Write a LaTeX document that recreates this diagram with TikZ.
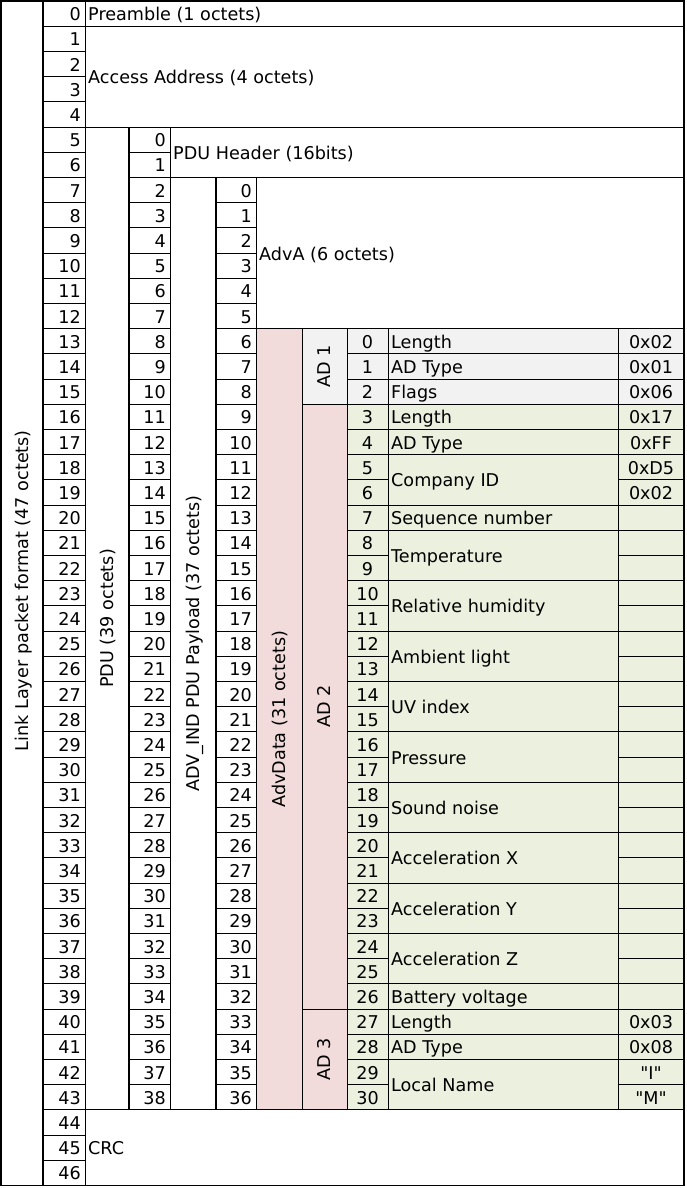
\documentclass[tikz,border=0pt]{standalone}
\usepackage{fontspec}
\setmainfont{DejaVu Sans}[Ligatures=TeXOff]
\definecolor{pinkc}{HTML}{F2DCDB}
\definecolor{greenc}{HTML}{EBF1DE}
\definecolor{grayc}{HTML}{F2F2F2}
\newcommand{\tabfont}{\fontsize{17.6}{20}\selectfont}
\tikzset{
  thinln/.style={line width=0.9pt, draw=black},
  thickln/.style={line width=2.6pt, draw=black},
  border/.style={line width=1.3pt, draw=black},
  txt/.style={inner sep=0pt, text height=12.6pt, text depth=0pt, font=\tabfont},
  num/.style={txt, anchor=east, yshift=-0.8pt},
  cnum/.style={txt, anchor=center, yshift=-0.8pt},
  lbl/.style={txt, anchor=west, yshift=-0.8pt},
  rot/.style={txt, anchor=center, rotate=90},
}
\begin{document}
\begin{tikzpicture}[x=1pt,y=-1pt]
\def\rh{25.2}
\useasboundingbox (0,0) rectangle (686,1188);
% ---- fills
\fill[pinkc] (256,{1+13*\rh}) rectangle (302,{1+44*\rh});
\fill[grayc] (302,{1+13*\rh}) rectangle (684,{1+16*\rh});
\fill[pinkc] (302,{1+16*\rh}) rectangle (347,{1+44*\rh});
\fill[greenc] (347,{1+16*\rh}) rectangle (684,{1+44*\rh});
% ---- horizontal lines in the number columns
\foreach \r in {1,...,46} \draw[thinln] (43,{1+\r*\rh}) -- (85,{1+\r*\rh});
\foreach \r in {6,...,43} \draw[thinln] (129,{1+\r*\rh}) -- (170,{1+\r*\rh});
\foreach \r in {8,...,43} \draw[thinln] (216,{1+\r*\rh}) -- (256,{1+\r*\rh});
\foreach \r in {14,...,43} {
  \draw[thinln] (347,{1+\r*\rh}) -- (388,{1+\r*\rh});
  \draw[thinln] (618,{1+\r*\rh}) -- (684,{1+\r*\rh});
}
\foreach \r in {14,15,16,17,18,20,21,23,25,27,29,31,33,35,37,39,40,41,42}
  \draw[thinln] (388,{1+\r*\rh}) -- (618,{1+\r*\rh});
% ---- separators of the merged cells
\draw[thinln] (85,{1+1*\rh}) -- (684,{1+1*\rh});
\draw[thinln] (85,{1+5*\rh}) -- (684,{1+5*\rh});
\draw[thinln] (170,{1+7*\rh}) -- (684,{1+7*\rh});
\draw[thinln] (256,{1+13*\rh}) -- (684,{1+13*\rh});
\draw[thinln] (302,{1+16*\rh}) -- (684,{1+16*\rh});
\draw[thinln] (302,{1+40*\rh}) -- (684,{1+40*\rh});
\draw[thinln] (85,{1+44*\rh}) -- (684,{1+44*\rh});
% ---- vertical lines
\draw[thinln] (85,{1}) -- (85,{1+47*\rh});
\draw[thinln] (170,{1+5*\rh}) -- (170,{1+44*\rh});
\draw[thinln] (256,{1+7*\rh}) -- (256,{1+44*\rh});
\foreach \x in {302,347,388,618}
  \draw[thinln] (\x,{1+13*\rh}) -- (\x,{1+44*\rh});
\draw[thickln] (43,{1}) -- (43,{1+47*\rh});
\draw[thickln] (129,{1+5*\rh}) -- (129,{1+44*\rh});
\draw[thickln] (216,{1+7*\rh}) -- (216,{1+44*\rh});
\draw[border] (1,1) rectangle (684,{1+47*\rh});
% ---- numbers
\foreach \r in {0,...,46} \node[num] (a\r) at (81,{1+(\r+0.5)*\rh}) {\r};
\foreach \r in {0,...,38} \node[num] (b\r) at (166,{1+(\r+5.5)*\rh}) {\r};
\foreach \r in {0,...,36} \node[num] (c\r) at (252,{1+(\r+7.5)*\rh}) {\r};
\foreach \r in {0,...,30} \node[cnum] (d\r) at (367.5,{1+(\r+13.5)*\rh}) {\r};
% ---- labels of the outer fields
\node[lbl] (preamble) at (88,{1+0.5*\rh}) {Preamble (1 octets)};
\node[lbl] (access) at (88,{1+3*\rh}) {Access Address (4 octets)};
\node[lbl] (pduhdr) at (173,{1+6*\rh}) {PDU Header (16bits)};
\node[lbl] (adva) at (259,{1+10*\rh}) {AdvA (6 octets)};
\node[lbl] (crc) at (88,{1+45.5*\rh}) {CRC};
% ---- rotated labels
\node[rot] (link) at (22,{1+23.4*\rh}) {Link Layer packet format (47 octets)};
\node[rot] (pdu) at (107,{1+24.5*\rh}) {PDU (39 octets)};
\node[rot] (payload) at (193,{1+25.5*\rh}) {ADV\_IND PDU Payload (37 octets)};
\node[rot] (advdata) at (279,{1+28.5*\rh}) {AdvData (31 octets)};
\node[rot] (ad1) at (324.5,{1+14.5*\rh}) {AD 1};
\node[rot] (ad2) at (324.5,{1+28*\rh}) {AD 2};
\node[rot] (ad3) at (324.5,{1+42*\rh}) {AD 3};
% ---- AD field names
\foreach \c/\t [count=\i] in {13.5/Length, 14.5/AD Type, 15.5/Flags, 16.5/Length,
  17.5/AD Type, 19/Company ID, 20.5/Sequence number, 22/Temperature,
  24/Relative humidity, 26/Ambient light, 28/UV index, 30/Pressure,
  32/Sound noise, 34/Acceleration X, 36/Acceleration Y, 38/Acceleration Z,
  39.5/Battery voltage, 40.5/Length, 41.5/AD Type, 43/Local Name}
  \node[lbl] (f\i) at (391,{1+\c*\rh}) {\t};
% ---- values
\foreach \r/\t [count=\i] in {13/0x02, 14/0x01, 15/0x06, 16/0x17, 17/0xFF,
  18/0xD5, 19/0x02, 40/0x03, 41/0x08, 42/"I", 43/"M"}
  \node[cnum] (v\i) at (651,{1+(\r+0.5)*\rh}) {\t};
\end{tikzpicture}
\end{document}
